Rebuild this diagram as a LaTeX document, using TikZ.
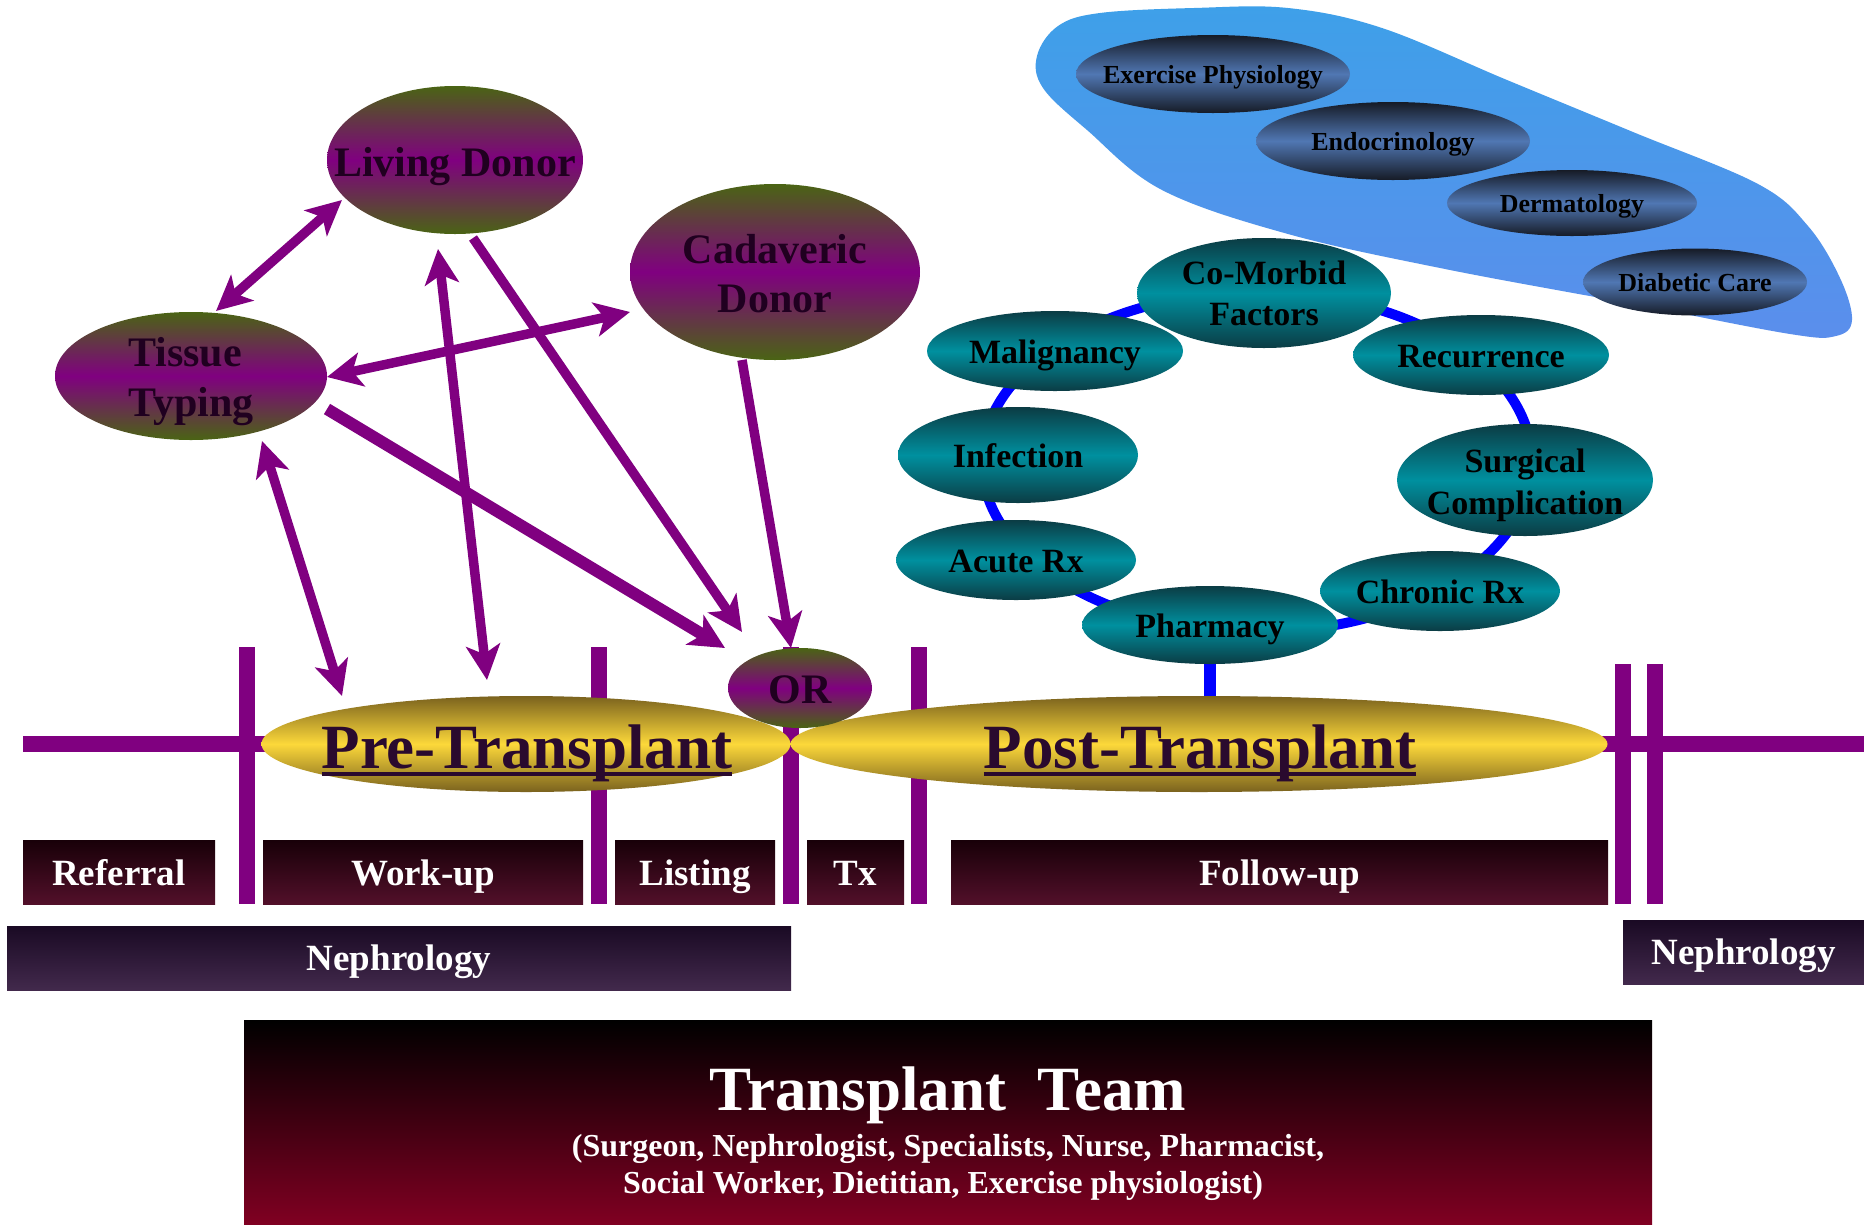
\documentclass[tikz,border=0pt]{standalone}
\usepackage{fontspec}
\setmainfont{Liberation Serif}
\usetikzlibrary{shapes.geometric,arrows.meta,calc,backgrounds}
\definecolor{pur}{HTML}{800080}
\definecolor{dgreen}{HTML}{4A6414}
\definecolor{dtxt}{HTML}{200020}
\definecolor{tdark}{HTML}{0B3C44}
\definecolor{tmid}{HTML}{00909F}
\definecolor{sdark}{HTML}{161B26}
\definecolor{smid}{HTML}{5077B3}
\definecolor{ydark}{HTML}{7A621E}
\definecolor{ymid}{HTML}{FCD83A}
\definecolor{ytxt}{HTML}{2A0A2E}
\definecolor{ltop}{HTML}{180008}
\definecolor{lbot}{HTML}{52102A}
\definecolor{ntop}{HTML}{1A0A24}
\definecolor{nbot}{HTML}{42294C}
\definecolor{ttop}{HTML}{000000}
\definecolor{tbot}{HTML}{800022}
\definecolor{blobA}{HTML}{3EA0E9}
\definecolor{blobB}{HTML}{5B8EEC}
\definecolor{ringblue}{HTML}{0000FF}
\newcommand\myul[1]{\setbox0\hbox{#1}\rlap{\rule[-8pt]{\wd0}{4pt}}\box0}
\tikzset{
  donor/.style={ellipse,inner sep=0pt,top color=dgreen,bottom color=dgreen,middle color=pur},
  dlab/.style={anchor=base,inner sep=0pt,text=dtxt,font=\bfseries\fontsize{42}{49}\selectfont},
  tealnode/.style={ellipse,inner sep=0pt,top color=tdark,bottom color=tdark,middle color=tmid},
  tlab/.style={anchor=base,inner sep=0pt,text=black,font=\bfseries\fontsize{34}{40}\selectfont},
  spec/.style={ellipse,inner sep=0pt,top color=sdark,bottom color=sdark,middle color=smid},
  slab/.style={anchor=base,inner sep=0pt,text=black,font=\bfseries\fontsize{26}{30}\selectfont},
  gold/.style={ellipse,inner sep=0pt,top color=ydark,bottom color=ydark,middle color=ymid},
  glab/.style={anchor=base,inner sep=0pt,text=ytxt,font=\bfseries\fontsize{63}{70}\selectfont},
  phase/.style={rectangle,inner sep=0pt,minimum height=64pt,top color=ltop,bottom color=lbot},
  neph/.style={rectangle,inner sep=0pt,minimum height=64pt,top color=ntop,bottom color=nbot},
  wlab/.style={anchor=base,inner sep=0pt,text=white,font=\bfseries\fontsize{37}{44}\selectfont},
  link/.style={draw=pur,line width=9.5pt},
  bar/.style={draw=pur,line width=16pt},
  >={Stealth[length=35pt,width=34pt,inset=9pt]}
}
\begin{document}
\begin{tikzpicture}[x=1pt,y=-1pt]
\useasboundingbox (0,0) rectangle (1864,1224);

% blue blob
\shade[top color=blobA,bottom color=blobB] plot[smooth cycle,tension=0.6] coordinates
 {(1037,56) (1058,26) (1100,13) (1194,8) (1288,8) (1382,28) (1507,80) (1633,132) (1758,184) (1808,226) (1840,278) (1852,320) (1836,336) (1790,334) (1633,304) (1445,269) (1288,234) (1162,190) (1087,130) (1043,88)};

% blue ring
\draw[ringblue,line width=10pt] (1257,462) ellipse [x radius=275,y radius=170];

% main time line and bars
\draw[bar] (23,744) -- (1864,744);
\draw[bar] (247,647) -- (247,904);
\draw[bar] (599,647) -- (599,904);
\draw[bar] (791,647) -- (791,904);
\draw[bar] (919,647) -- (919,904);
\draw[bar] (1623,664) -- (1623,904);
\draw[bar] (1655,664) -- (1655,904);

% specialty ellipses
\node[spec,minimum width=274pt,minimum height=78pt] (exe) at (1213,74) {};
\node[spec,minimum width=274pt,minimum height=78pt] (end) at (1393,141) {};
\node[spec,minimum width=250pt,minimum height=66pt] (der) at (1572,203) {};
\node[spec,minimum width=224pt,minimum height=67pt] (dia) at (1695,282) {};
\node[slab] (exet) at ($(exe)+(0,9)$) {Exercise Physiology};
\node[slab] (endt) at ($(end)+(0,9)$) {Endocrinology};
\node[slab] (dert) at ($(der)+(0,9)$) {Dermatology};
\node[slab] (diat) at ($(dia)+(0,9)$) {Diabetic Care};

% teal ring nodes
\node[tealnode,minimum width=256pt,minimum height=80pt] (mal) at (1055,351) {};
\node[tealnode,minimum width=254pt,minimum height=110pt] (com) at (1264,293) {};
\node[tealnode,minimum width=256pt,minimum height=80pt] (rec) at (1481,355) {};
\node[tealnode,minimum width=240pt,minimum height=96pt] (inf) at (1018,455) {};
\node[tealnode,minimum width=256pt,minimum height=112pt] (sur) at (1525,480) {};
\node[tealnode,minimum width=240pt,minimum height=80pt] (acu) at (1016,560) {};
\node[tealnode,minimum width=240pt,minimum height=80pt] (chr) at (1440,591) {};
\node[tealnode,minimum width=256pt,minimum height=78pt] (pha) at (1210,625) {};
\node[tlab] (comt1) at ($(com)+(0,-9)$) {Co-Morbid};
\node[tlab] (comt2) at ($(com)+(0,32)$) {Factors};
\node[tlab] (malt) at ($(mal)+(0,12)$) {Malignancy};
\node[tlab] (rect) at ($(rec)+(0,12)$) {Recurrence};
\node[tlab] (inft) at ($(inf)+(0,12)$) {Infection};
\node[tlab] (surt1) at ($(sur)+(0,-8)$) {Surgical};
\node[tlab] (surt2) at ($(sur)+(0,34)$) {Complication};
\node[tlab] (acut) at ($(acu)+(0,12)$) {Acute Rx};
\node[tlab] (chrt) at ($(chr)+(0,12)$) {Chronic Rx};
\node[tlab] (phat) at ($(pha)+(0,12)$) {Pharmacy};

% phase ellipses
\node[gold,minimum width=529pt,minimum height=96pt] (pre) at (526,744) {};
\node[gold,minimum width=817pt,minimum height=96pt] (post) at (1199,744) {};
\node[glab] (pret) at ($(pre)+(1,24)$) {\myul{Pre-Transplant}};
\node[glab] (postt) at ($(post)+(1,24)$) {\myul{Post-Transplant}};
\begin{pgfonlayer}{background}
\draw[ringblue,line width=12pt] (pha.south) -- (pha.south |- post.north);
\end{pgfonlayer}

% donor side
\node[donor,minimum width=256pt,minimum height=148pt] (liv) at (455,160) {};
\node[donor,minimum width=290pt,minimum height=176pt] (cad) at (775,272) {};
\node[donor,minimum width=272pt,minimum height=128pt] (tis) at (191,376) {};
\node[donor,minimum width=144pt,minimum height=80pt] (or) at (800,688) {};
\node[dlab] (livt) at ($(liv)+(0,16)$) {Living Donor};
\node[dlab] (cadt1) at ($(cad)+(0,-9)$) {Cadaveric};
\node[dlab] (cadt2) at ($(cad)+(0,40)$) {Donor};
\node[dlab] (tist1) at ($(tis)+(-6,-10)$) {Tissue};
\node[dlab] (tist2) at ($(tis)+(0,40)$) {Typing};
\node[dlab] (ort) at ($(or)+(0,15)$) {OR};

% arrows
\draw[link,<->] ($(liv)+(-113,40)$) -- ($(tis)+(25,-65)$);
\draw[link,<->] ($(tis)+(136,1)$) -- ($(cad)+(-145,40)$);
\draw[link,line width=12pt,->] ($(tis)+(136,33)$) -- ($(or)+(-75,-40)$);
\draw[link,<->] ($(liv)+(-17,89)$) -- ($(pre)+(-39,-64)$);
\draw[link,->] ($(liv)+(18,78)$) -- ($(or)+(-58,-56)$);
\draw[link,->] ($(cad)+(-33,88)$) -- ($(or)+(-9,-40)$);
\draw[link,<->] ($(tis)+(71,65)$) -- ($(pre)+(-184,-48)$);

% phase label boxes
\node[phase,minimum width=192pt] (ref) at (119,872) {};
\node[phase,minimum width=320pt] (wor) at (423,872) {};
\node[phase,minimum width=160pt] (lis) at (695,872) {};
\node[phase,minimum width=97pt] (tx) at (855.5,872) {};
\node[phase,minimum width=657pt] (fol) at (1279.5,872) {};
\node[wlab] (reft) at ($(ref)+(0,13)$) {Referral};
\node[wlab] (wort) at ($(wor)+(0,13)$) {Work-up};
\node[wlab] (list) at ($(lis)+(0,13)$) {Listing};
\node[wlab] (txt) at ($(tx)+(0,13)$) {Tx};
\node[wlab] (folt) at ($(fol)+(0,13)$) {Follow-up};

% nephrology
\node[neph,minimum width=784pt] (nl) at (399,958) {};
\node[neph,minimum width=241pt] (nr) at (1743.5,952) {};
\node[wlab] (nlt) at ($(nl)+(0,12)$) {Nephrology};
\node[wlab] (nrt) at ($(nr)+(0,12)$) {Nephrology};

% transplant team
\node[rectangle,inner sep=0pt,minimum width=1408pt,minimum height=204pt,top color=ttop,bottom color=tbot] (team) at (948,1122) {};
\node[anchor=base,inner sep=0pt,text=white,font=\bfseries\fontsize{63}{70}\selectfont] (teamt) at ($(team)+(0,-12)$) {Transplant\hspace{0.5em}Team};
\node[anchor=base,inner sep=0pt,text=white,font=\bfseries\fontsize{32}{37}\selectfont] (teams1) at ($(team)+(0,34)$) {(Surgeon, Nephrologist, Specialists, Nurse, Pharmacist,};
\node[anchor=base,inner sep=0pt,text=white,font=\bfseries\fontsize{32}{37}\selectfont] (teams2) at ($(team)+(-5,71)$) {Social Worker, Dietitian, Exercise physiologist)};
\end{tikzpicture}
\end{document}
